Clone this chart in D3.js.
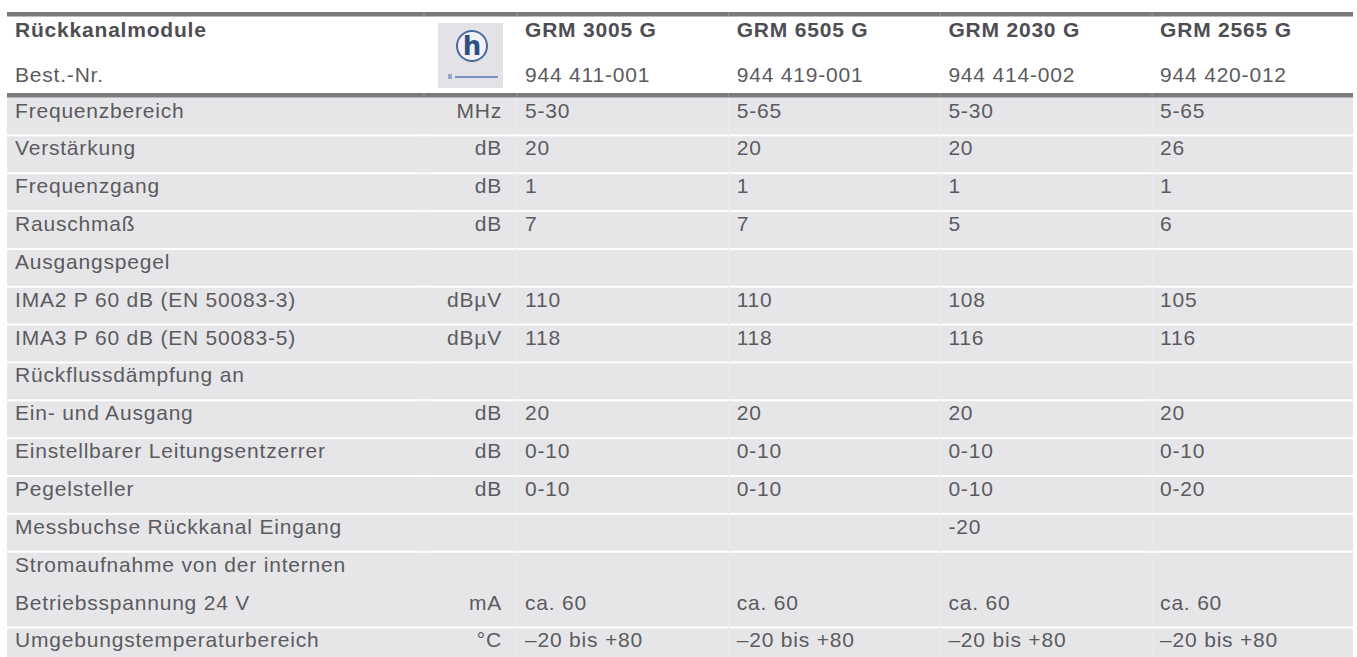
<!DOCTYPE html>
<html>
<head>
<meta charset="utf-8">
<script src="https://cdn.jsdelivr.net/npm/d3@7"></script>
<style>
  html, body { margin: 0; padding: 0; background: #ffffff; }
  svg { display: block; }
  text { font-family: "Liberation Sans", Arial, Helvetica, sans-serif; letter-spacing: 0.8px; }
</style>
</head>
<body>
<svg id="chart" width="1357" height="657"></svg>
<script>
// ---- data ----
const title = "Rückkanalmodule";
const orderLabel = "Best.-Nr.";
const models = ["GRM 3005 G", "GRM 6505 G", "GRM 2030 G", "GRM 2565 G"];
const orderNumbers = ["944 411-001", "944 419-001", "944 414-002", "944 420-012"];
const labels = [
  ["Frequenzbereich"],
  ["Verstärkung"],
  ["Frequenzgang"],
  ["Rauschmaß"],
  ["Ausgangspegel"],
  ["IMA2 P 60 dB (EN 50083-3)"],
  ["IMA3 P 60 dB (EN 50083-5)"],
  ["Rückflussdämpfung an"],
  ["Ein- und Ausgang"],
  ["Einstellbarer Leitungsentzerrer"],
  ["Pegelsteller"],
  ["Messbuchse Rückkanal Eingang"],
  ["Stromaufnahme von der internen", "Betriebsspannung 24 V"],
  ["Umgebungstemperaturbereich"]
];
const units = ["MHz", "dB", "dB", "dB", "", "dBµV", "dBµV", "", "dB", "dB", "dB", "", "mA", "°C"];
const grm3005 = ["5-30", "20", "1", "7", "", "110", "118", "", "20", "0-10", "0-10", "", "ca. 60", "–20 bis +80"];
const grm6505 = ["5-65", "20", "1", "7", "", "110", "118", "", "20", "0-10", "0-10", "", "ca. 60", "–20 bis +80"];
const grm2030 = ["5-30", "20", "1", "5", "", "108", "116", "", "20", "0-10", "0-10", "-20", "ca. 60", "–20 bis +80"];
const grm2565 = ["5-65", "26", "1", "6", "", "105", "116", "", "20", "0-10", "0-20", "", "ca. 60", "–20 bis +80"];
const series = [grm3005, grm6505, grm2030, grm2565];

// ---- layout ----
const svg = d3.select("#chart");
const left = 7, right = 1353;
const labelColEnd = 424, unitColEnd = 517;
const colX = d3.scaleLinear().domain([0, 4]).range([unitColEnd, unitColEnd + 4 * 211.7]);
const bodyTop = 97.5;
const totalLines = d3.sum(labels, d => d.length);
const yLine = d3.scaleLinear().domain([0, totalLines]).range([bodyTop, bodyTop + totalLines * 37.85]);

const textColor = "#5b5b5f";
const boldColor = "#4e4e52";
const barColor = "#7a7a7e";
const rowFill = "#e6e6e8";
const fs = 21;

// rows
let acc = 0;
const rows = labels.map((lab, i) => {
  const r = { i, lab, start: acc, span: lab.length };
  acc += lab.length;
  return r;
});

// gray rows
svg.append("g").selectAll("rect").data(rows).join("rect")
  .attr("x", left)
  .attr("y", d => yLine(d.start) + (d.i === 0 ? 0 : 1))
  .attr("width", right - left)
  .attr("height", d => yLine(d.start + d.span) - yLine(d.start) - (d.i === 0 ? 1 : 2))
  .attr("fill", rowFill);

// faint column dividers
const dividers = [labelColEnd, unitColEnd, colX(1), colX(2), colX(3)];
svg.append("g").selectAll("line").data(dividers).join("line")
  .attr("x1", d => d).attr("x2", d => d)
  .attr("y1", bodyTop).attr("y2", 657)
  .attr("stroke", "#ececee").attr("stroke-width", 1);

// header bars
svg.append("rect").attr("x", left).attr("y", 12).attr("width", right - left).attr("height", 4.5).attr("fill", barColor);
svg.append("rect").attr("x", left).attr("y", 93).attr("width", right - left).attr("height", 4.5).attr("fill", barColor);
svg.append("g").selectAll("line").data(dividers).join("line")
  .attr("x1", d => d).attr("x2", d => d)
  .attr("y1", 12).attr("y2", 16.5)
  .attr("stroke", "#96969a").attr("stroke-width", 1);
svg.append("g").selectAll("line").data(dividers).join("line")
  .attr("x1", d => d).attr("x2", d => d)
  .attr("y1", 93).attr("y2", 97.5)
  .attr("stroke", "#96969a").attr("stroke-width", 1);

// header text
svg.append("text").attr("x", 15).attr("y", 37).attr("font-size", fs).attr("font-weight", "bold")
  .attr("fill", boldColor).text(title);
svg.append("text").attr("x", 15).attr("y", 82).attr("font-size", fs)
  .attr("fill", textColor).text(orderLabel);
svg.append("g").selectAll("text").data(models).join("text")
  .attr("x", (d, i) => colX(i) + 8).attr("y", 37)
  .attr("font-size", fs).attr("font-weight", "bold").attr("fill", boldColor)
  .text(d => d);
svg.append("g").selectAll("text").data(orderNumbers).join("text")
  .attr("x", (d, i) => colX(i) + 8).attr("y", 82)
  .attr("font-size", fs).attr("fill", textColor)
  .text(d => d);

// logo
const logo = svg.append("g").attr("transform", "translate(438,23)");
logo.append("rect").attr("width", 65).attr("height", 65).attr("fill", "#e3e3e7");
logo.append("circle").attr("cx", 34).attr("cy", 23).attr("r", 15)
  .attr("fill", "#f2f2f6").attr("stroke", "#4a6a9a").attr("stroke-width", 2);
logo.append("text").attr("x", 34).attr("y", 32).attr("text-anchor", "middle")
  .attr("font-size", 26).attr("font-weight", "bold").attr("fill", "#2f4f80")
  .style("letter-spacing", "0px")
  .style("font-family", "'DejaVu Sans', sans-serif").text("h");
logo.append("rect").attr("x", 17).attr("y", 53).attr("width", 43).attr("height", 2).attr("fill", "#7a90c0");
logo.append("rect").attr("x", 10).attr("y", 51).attr("width", 4).attr("height", 5).attr("fill", "#9aa8c8");

// body text
const body = svg.append("g");
rows.forEach(r => {
  const top = yLine(r.start);
  r.lab.forEach((t, k) => {
    body.append("text").attr("x", 15).attr("y", top + 20 + k * 37.85)
      .attr("font-size", fs).attr("fill", textColor).text(t);
  });
  const baseY = top + 20 + (r.span - 1) * 37.85;
  if (units[r.i]) {
    body.append("text").attr("x", 502).attr("y", baseY).attr("text-anchor", "end")
      .attr("font-size", fs).attr("fill", textColor).text(units[r.i]);
  }
  series.forEach((s, c) => {
    if (s[r.i]) {
      body.append("text").attr("x", colX(c) + 8).attr("y", baseY)
        .attr("font-size", fs).attr("fill", textColor).text(s[r.i]);
    }
  });
});
</script>
</body>
</html>
